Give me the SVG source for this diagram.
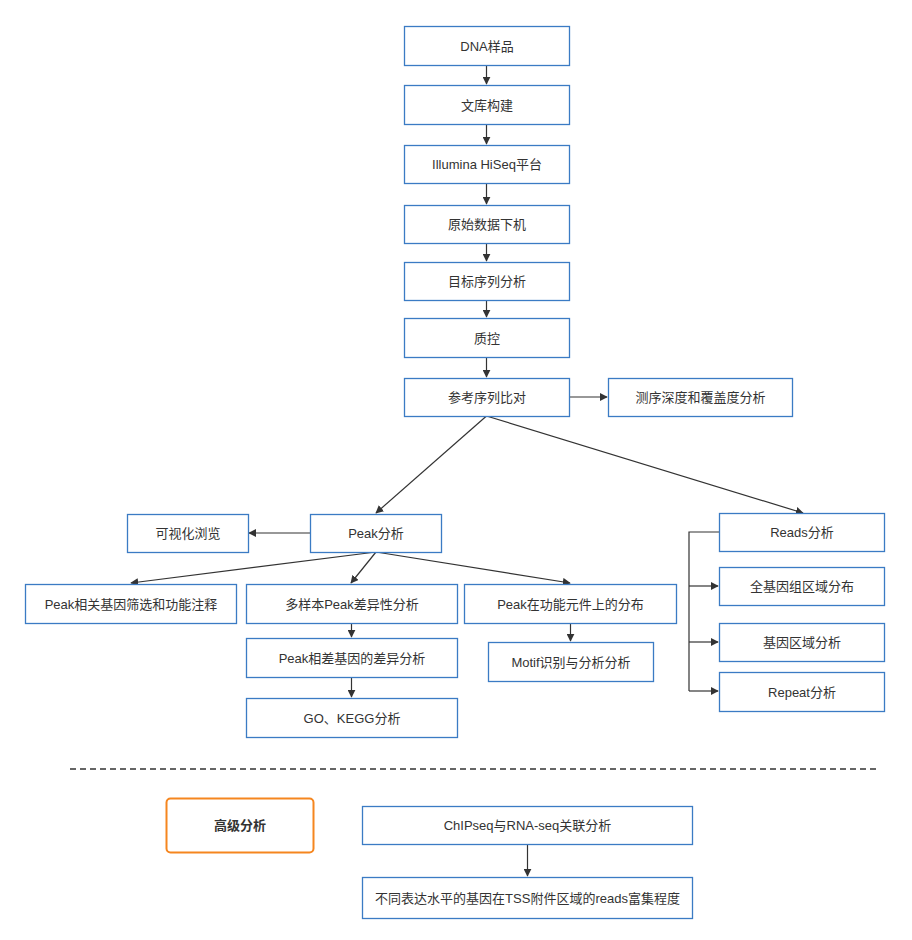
<svg xmlns="http://www.w3.org/2000/svg" width="912" height="940" viewBox="0 0 912 940">
<defs>
<style>
.b{fill:#fff;stroke:#3b7bc4;stroke-width:1.3}
.t{font-family:"Liberation Sans","Noto Sans CJK SC",sans-serif;font-size:13px;fill:#333;text-anchor:middle;dominant-baseline:central}
.c{fill:none;stroke:#333;stroke-width:1.2}
</style>
<marker id="a" viewBox="0 0 10 10" refX="9" refY="5" markerWidth="8" markerHeight="8" markerUnits="userSpaceOnUse" orient="auto"><path d="M0,0L10,5L0,10z" fill="#333"/></marker>
</defs>
<rect width="912" height="940" fill="#fff"/>
<g id="connectors">
<path class="c" d="M486.5,65V84" marker-end="url(#a)"/>
<path class="c" d="M486.5,124V144" marker-end="url(#a)"/>
<path class="c" d="M486.5,183V204" marker-end="url(#a)"/>
<path class="c" d="M486.5,243V261" marker-end="url(#a)"/>
<path class="c" d="M486.5,300V317" marker-end="url(#a)"/>
<path class="c" d="M486.5,357V377" marker-end="url(#a)"/>
<path class="c" d="M569,397H607" marker-end="url(#a)"/>
<path class="c" d="M486.5,416L376,513" marker-end="url(#a)"/>
<path class="c" d="M486.5,416L803,513" marker-end="url(#a)"/>
<path class="c" d="M310,533H249" marker-end="url(#a)"/>
<path class="c" d="M376,552L131,583" marker-end="url(#a)"/>
<path class="c" d="M376,552L351,583" marker-end="url(#a)"/>
<path class="c" d="M376,552L570,583" marker-end="url(#a)"/>
<path class="c" d="M351.5,623V637" marker-end="url(#a)"/>
<path class="c" d="M351.5,677V697" marker-end="url(#a)"/>
<path class="c" d="M570.5,623V641" marker-end="url(#a)"/>
<path class="c" d="M719,532H689V691"/>
<path class="c" d="M689,586H718" marker-end="url(#a)"/>
<path class="c" d="M689,642H718" marker-end="url(#a)"/>
<path class="c" d="M689,691H718" marker-end="url(#a)"/>
<path class="c" d="M527.5,844V876" marker-end="url(#a)"/>
<path d="M70,769H880" fill="none" stroke="#333" stroke-width="1.5" stroke-dasharray="6,4"/>
</g>
<g id="n1"><rect class="b" x="404.5" y="26.5" width="165" height="39"/><text class="t" x="487" y="46">DNA样品</text></g>
<g id="n2"><rect class="b" x="404.5" y="85.5" width="165" height="39"/><text class="t" x="487" y="105">文库构建</text></g>
<g id="n3"><rect class="b" x="404.5" y="145.5" width="165" height="38"/><text class="t" x="487" y="164.5">Illumina HiSeq平台</text></g>
<g id="n4"><rect class="b" x="404.5" y="205.5" width="165" height="38"/><text class="t" x="487" y="224.5">原始数据下机</text></g>
<g id="n5"><rect class="b" x="404.5" y="262.5" width="165" height="38"/><text class="t" x="487" y="281.5">目标序列分析</text></g>
<g id="n6"><rect class="b" x="404.5" y="318.5" width="165" height="39"/><text class="t" x="487" y="338">质控</text></g>
<g id="n7"><rect class="b" x="404.5" y="378.5" width="165" height="38"/><text class="t" x="487" y="397.5">参考序列比对</text></g>
<g id="n8"><rect class="b" x="608.5" y="378.5" width="184" height="38"/><text class="t" x="700.5" y="397.5">测序深度和覆盖度分析</text></g>
<g id="n9"><rect class="b" x="310.5" y="514.5" width="131" height="38"/><text class="t" x="376" y="533.5">Peak分析</text></g>
<g id="n10"><rect class="b" x="127.5" y="514.5" width="121" height="38"/><text class="t" x="188" y="533.5">可视化浏览</text></g>
<g id="n11"><rect class="b" x="719.5" y="513.5" width="165" height="38"/><text class="t" x="802" y="532.5">Reads分析</text></g>
<g id="n12"><rect class="b" x="719.5" y="567.5" width="165" height="38"/><text class="t" x="802" y="586.5">全基因组区域分布</text></g>
<g id="n13"><rect class="b" x="719.5" y="623.5" width="165" height="38"/><text class="t" x="802" y="642.5">基因区域分析</text></g>
<g id="n14"><rect class="b" x="719.5" y="672.5" width="165" height="39"/><text class="t" x="802" y="692">Repeat分析</text></g>
<g id="n15"><rect class="b" x="25.5" y="584.5" width="211" height="39"/><text class="t" x="131" y="604">Peak相关基因筛选和功能注释</text></g>
<g id="n16"><rect class="b" x="246.5" y="584.5" width="211" height="39"/><text class="t" x="352" y="604">多样本Peak差异性分析</text></g>
<g id="n17"><rect class="b" x="464.5" y="584.5" width="212" height="39"/><text class="t" x="570.5" y="604">Peak在功能元件上的分布</text></g>
<g id="n18"><rect class="b" x="246.5" y="638.5" width="211" height="39"/><text class="t" x="352" y="658">Peak相差基因的差异分析</text></g>
<g id="n19"><rect class="b" x="246.5" y="698.5" width="211" height="39"/><text class="t" x="352" y="718">GO、KEGG分析</text></g>
<g id="n20"><rect class="b" x="488.5" y="642.5" width="165" height="39"/><text class="t" x="571" y="662">Motif识别与分析分析</text></g>
<g id="n21"><rect x="166.5" y="798.5" width="147" height="54" rx="4" fill="#fff" stroke="#f5861f" stroke-width="2"/><text class="t" x="240" y="825.5" style="font-weight:bold">高级分析</text></g>
<g id="n22"><rect class="b" x="362.5" y="806.5" width="330" height="38"/><text class="t" x="527.5" y="825.5">ChIPseq与RNA-seq关联分析</text></g>
<g id="n23"><rect class="b" x="362.5" y="877.5" width="330" height="41"/><text class="t" x="527.5" y="898">不同表达水平的基因在TSS附件区域的reads富集程度</text></g>
</svg>
